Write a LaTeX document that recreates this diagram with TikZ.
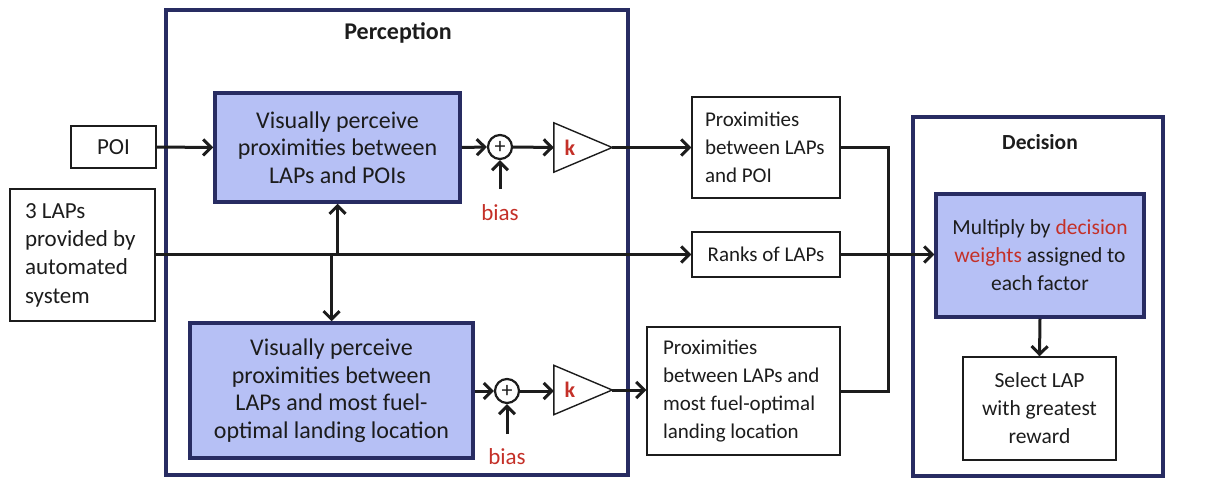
\documentclass[tikz,border=0pt]{standalone}
\usepackage{fontspec}
\setmainfont{Carlito}
\usetikzlibrary{arrows.meta,calc}
\definecolor{navy}{RGB}{40,44,98}
\definecolor{procfill}{RGB}{182,192,245}
\definecolor{accent}{RGB}{196,48,40}
\definecolor{ink}{RGB}{28,28,28}

\begin{document}
\begin{tikzpicture}[x=1pt,y=-1pt,
  font=\fontsize{21}{28.3}\selectfont, text=ink,
  big/.style={font=\fontsize{24}{27.5}\selectfont},
  mid/.style={font=\fontsize{23}{28.3}\selectfont},
  dsize/.style={font=\fontsize{21.5}{28}\selectfont},
  frame/.style={draw=navy,line width=4pt,inner sep=0},
  proc/.style={draw=navy,fill=procfill,line width=3.5pt,inner sep=0,align=center},
  plain/.style={draw=ink,line width=1.4pt,inner sep=0,align=center},
  leftbox/.style={draw=ink,line width=1.4pt,inner ysep=0,align=flush left},
  conn/.style={draw=ink,line width=3pt,line join=miter},
  arr/.style={conn,-{Straight Barb[length=8pt,width=16pt]}},
  sumnode/.style={circle,draw=ink,line width=2.2pt,minimum size=24pt,inner sep=0,
    font=\fontsize{22}{22}\selectfont},
  gainbox/.style={minimum width=58pt,minimum height=49pt,inner sep=0},
  gaintri/.style={draw=ink,line width=1.4pt},
  gainlabel/.style={text=accent,font=\fontsize{22}{22}\selectfont\bfseries},
  biaslabel/.style={text=accent,font=\fontsize{23}{23}\selectfont}
]
\useasboundingbox (0,0) rectangle (1229,479);

% group frames and their headings
\node[frame,minimum width=462pt,minimum height=465pt] (perc) at (397,242.5) {};
\node[font=\fontsize{24}{28}\selectfont\bfseries] (percT) at (398,33) {Perception};
\node[frame,minimum width=250pt,minimum height=359pt] (dec) at (1038,296.5) {};
\node[font=\fontsize{21.5}{26}\selectfont\bfseries] (decT) at (1040,142) {Decision};

% inputs
\node[plain,mid,minimum width=85pt,minimum height=42pt] (poi) at (113.5,147) {POI};
\node[leftbox,mid,inner xsep=15pt,text width=115pt,minimum height=132pt] (laps) at (82.5,255)
  {3 LAPs\\provided by\\automated\\system};

% perception blocks
\node[proc,big,minimum width=245pt,minimum height=109pt] (vpa) at (337.5,147.5)
  {Visually perceive\\proximities between\\LAPs and POIs};
\node[proc,big,minimum width=283pt,minimum height=135pt] (vpb) at (331.5,390.5)
  {Visually perceive\\proximities between\\LAPs and most fuel-\\optimal landing location};

% summing junctions
\node[sumnode] (sa) at (500,147) {+};
\node[sumnode] (sb) at (507,391) {+};
\node[biaslabel] (ba) at (500,213) {bias};
\node[biaslabel] (bb) at (507,457) {bias};
\coordinate (bia) at (500,189);
\coordinate (bib) at (507,434);

% gains
\node[gainbox] (ga) at (583,147.5) {};
\draw[gaintri] (ga.north west) -- (ga.east) -- (ga.south west) -- cycle;
\node[gainlabel] (ka) at (570,147.5) {k};
\node[gainbox] (gb) at (583,390) {};
\draw[gaintri] (gb.north west) -- (gb.east) -- (gb.south west) -- cycle;
\node[gainlabel] (kb) at (570,390) {k};

% intermediate quantities
\node[leftbox,inner xsep=13pt,text width=122pt,minimum height=101pt] (pa) at (766,147.5)
  {Proximities\\between LAPs\\and POI};
\node[plain,minimum width=148pt,minimum height=45pt] (rk) at (766,254.5) {Ranks of LAPs};
\node[leftbox,inner xsep=16pt,text width=161pt,minimum height=128pt] (pb) at (743.5,391)
  {Proximities\\between LAPs and\\most fuel-optimal\\landing location};

% decision blocks
\node[proc,dsize,minimum width=208pt,minimum height=123pt] (mul) at (1040,255.5)
  {Multiply by \textcolor{accent}{decision}\\\textcolor{accent}{weights} assigned to\\each factor};
\node[plain,dsize,minimum width=153pt,minimum height=103pt] (sel) at (1039.5,408.5)
  {Select LAP\\with greatest\\reward};

% junction points
\coordinate (ja) at (337.5,254.5);
\coordinate (jb) at (331.5,254.5);
\coordinate (jm) at (888,254.5);

% connectors
\draw[arr] (poi.east) -- (vpa.west);
\draw[arr] (laps.east |- rk.west) -- (rk.west);
\draw[arr] (ja) -- (vpa.south);
\draw[arr] (jb) -- (vpb.north);

\draw[arr] (vpa.east) -- (sa.west);
\draw[arr] (bia) -- (sa.south);
\draw[arr] (sa.east) -- (ga.west);
\draw[arr] (ga.east) -- (pa.west);

\draw[arr] (vpb.east |- sb.west) -- (sb.west);
\draw[arr] (bib) -- (sb.south);
\draw[arr] (sb.east) -- (gb.west |- sb.east);
\draw[arr] (gb.east) -- (pb.west |- gb.east);

\draw[conn] (pa.east) -| (jm) |- (pb.east);
\draw[arr] (rk.east) -- (mul.west |- rk.east);
\draw[arr] (mul.south) -- (sel.north);
\end{tikzpicture}
\end{document}
